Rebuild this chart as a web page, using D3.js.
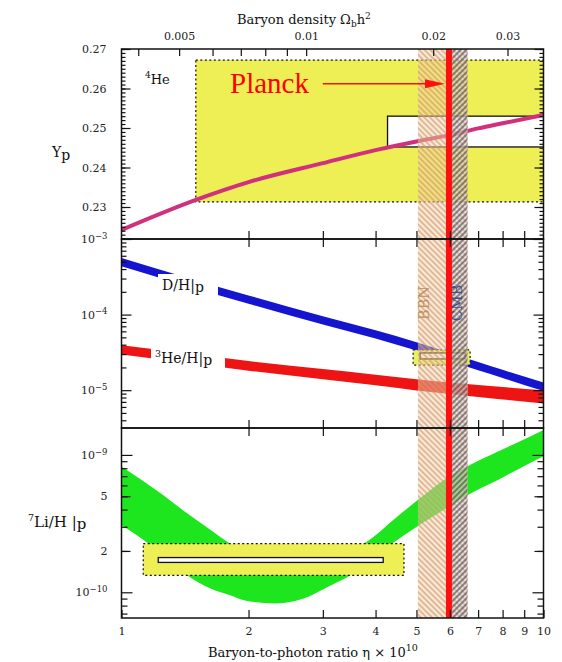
<!DOCTYPE html>
<html>
<head>
<meta charset="utf-8">
<script src="https://cdn.jsdelivr.net/npm/d3@7"></script>
<style>
  body { margin: 0; background: #fff; }
  .tick text { fill: #222; }
</style>
</head>
<body>
<div id="chart"></div>
<script>
// ---- data ----
const etaGrid = [1, 1.5, 2, 3, 4, 5, 6, 7, 8, 10];
const heYp = [0.2242, 0.2318, 0.2363, 0.2411, 0.2444, 0.2466, 0.2482, 0.2499, 0.2512, 0.2533];
const dhUpper = [5.60e-4, 2.84e-4, 1.79e-4, 9.53e-5, 6.21e-5, 4.31e-5, 3.11e-5, 2.36e-5, 1.86e-5, 1.26e-5];
const dhLower = [4.35e-4, 2.20e-4, 1.39e-4, 7.40e-5, 4.82e-5, 3.34e-5, 2.42e-5, 1.83e-5, 1.45e-5, 9.75e-6];
const he3Upper = [3.92e-5, 2.96e-5, 2.43e-5, 1.90e-5, 1.60e-5, 1.39e-5, 1.26e-5, 1.17e-5, 1.10e-5, 9.95e-6];
const he3Lower = [2.97e-5, 2.23e-5, 1.81e-5, 1.40e-5, 1.16e-5, 9.93e-6, 8.89e-6, 8.15e-6, 7.55e-6, 6.67e-6];

const liEta = [1, 1.13, 1.25, 1.43, 1.63, 1.81, 1.95, 2.3, 2.7, 3.13, 3.5, 3.75, 4.5, 5.4, 5.9, 6.5, 7.8, 9.3, 10];
const liUpper = [8.22e-10, 6.40e-10, 5.15e-10, 3.76e-10, 2.83e-10, 2.26e-10, 2.0e-10, 1.70e-10, 1.66e-10, 1.82e-10,
                 2.04e-10, 2.26e-10, 3.55e-10, 5.56e-10, 6.79e-10, 8.07e-10, 1.06e-9, 1.36e-9, 1.52e-9];
const liLower = [3.08e-10, 2.39e-10, 1.86e-10, 1.33e-10, 1.06e-10, 9.5e-11, 8.75e-11, 8.28e-11, 9.0e-11, 1.12e-10,
                 1.34e-10, 1.58e-10, 2.40e-10, 3.47e-10, 4.10e-10, 4.97e-10, 6.58e-10, 8.75e-10, 9.72e-10];

// observed ranges (boxes)
const heObsEta = [1.5, 10], heObsYp = [0.2313, 0.2672];
const heInnerEta = [4.27, 10], heInnerYp = [0.2452, 0.2530];
const dhObsEta = [4.91, 6.70], dhObsVal = [2.15e-5, 3.41e-5];
const dhInnerEta = [5.10, 6.52], dhInnerVal = [2.59e-5, 3.11e-5];
const liObsEta = [1.126, 4.67], liObsVal = [1.33e-10, 2.26e-10];
const liInnerEta = [1.222, 4.17], liInnerVal = [1.65e-10, 1.79e-10];

const bbnRange = [5.04, 6.62];
const cmbRange = [5.90, 6.60];
const planckEta = 5.97;

// ticks
const etaTicks = [1, 2, 3, 4, 5, 6, 7, 8, 9, 10];
const omegaTicks = [0.004, 0.005, 0.006, 0.007, 0.008, 0.009, 0.01, 0.02, 0.03];
const omegaLabels = [0.005, 0.01, 0.02, 0.03];
const ypMajor = [0.23, 0.24, 0.25, 0.26, 0.27];
const midMajor = [1e-3, 1e-4, 1e-5];
const liLabelled = [1e-9, 5e-10, 2e-10, 1e-10];

// ---- layout ----
const W = 562, H = 662;
const x0 = 121.5, x1 = 543.5;
const topP = [49, 239], midP = [239, 428], botP = [428, 618];

const x = d3.scaleLog().domain([1, 10]).range([x0, x1]);
const xOm = d3.scaleLog().domain([1 / 273.9, 10 / 273.9]).range([x0, x1]);
const yHe = d3.scaleLinear().domain([0.2219, 0.27]).range([topP[1], topP[0]]);
const yMid = d3.scaleLog().domain([3.16e-6, 1e-3]).range([midP[1], midP[0]]);
const yLi = d3.scaleLog().domain([6.5e-11, 1.57e-9]).range([botP[1], botP[0]]);

const svg = d3.select("#chart").append("svg")
  .attr("width", W).attr("height", H)
  .style("font-family", "'DejaVu Serif', serif");

const defs = svg.append("defs");
[["clipTop", topP], ["clipMid", midP], ["clipBot", botP]].forEach(([id, p]) => {
  defs.append("clipPath").attr("id", id).append("rect")
    .attr("x", x0).attr("y", p[0]).attr("width", x1 - x0).attr("height", p[1] - p[0]);
});

function hatch(id, angle, bg, line, lw) {
  const p = defs.append("pattern").attr("id", id)
    .attr("patternUnits", "userSpaceOnUse").attr("width", 4).attr("height", 4)
    .attr("patternTransform", `rotate(${angle})`);
  p.append("rect").attr("width", 4).attr("height", 4).attr("fill", bg);
  p.append("line").attr("x1", 1).attr("y1", 0).attr("x2", 1).attr("y2", 4)
    .attr("stroke", line).attr("stroke-width", lw);
}
hatch("hBBN", -45, "rgba(240,210,175,0.45)", "rgba(210,150,100,0.85)", 1.4);
hatch("hCMB", 45, "rgba(210,210,222,0.35)", "rgba(45,45,65,0.85)", 1.2);

const gTop = svg.append("g").attr("clip-path", "url(#clipTop)");
const gMid = svg.append("g").attr("clip-path", "url(#clipMid)");
const gBot = svg.append("g").attr("clip-path", "url(#clipBot)");

function box(g, ex, ey, ys, fill, dashed) {
  g.append("rect")
    .attr("x", x(ex[0])).attr("width", x(ex[1]) - x(ex[0]))
    .attr("y", ys(ey[1])).attr("height", ys(ey[0]) - ys(ey[1]))
    .attr("fill", fill).attr("stroke", "#111")
    .attr("stroke-width", dashed ? 1.2 : 1.3)
    .attr("stroke-dasharray", dashed ? "2,2.5" : null);
}

const yellow = "#eeee55";

// ---- top panel: 4He ----
box(gTop, heObsEta, heObsYp, yHe, yellow, true);
box(gTop, heInnerEta, heInnerYp, yHe, "#fff", false);
gTop.append("path")
  .datum(etaGrid.map((e, i) => [e, heYp[i]]))
  .attr("fill", "none").attr("stroke", "#d0307c").attr("stroke-width", 4)
  .attr("d", d3.line().x(d => x(d[0])).y(d => yHe(d[1])).curve(d3.curveMonotoneX));

// ---- middle panel: D and 3He ----
const band = ys => d3.area().x(d => x(d[0])).y0(d => ys(d[1])).y1(d => ys(d[2])).curve(d3.curveMonotoneX);
gMid.append("path").datum(etaGrid.map((e, i) => [e, dhLower[i], dhUpper[i]]))
  .attr("fill", "#1515d0").attr("d", band(yMid));
gMid.append("path").datum(etaGrid.map((e, i) => [e, he3Lower[i], he3Upper[i]]))
  .attr("fill", "#ee1414").attr("d", band(yMid));

// ---- bottom panel: 7Li ----
gBot.append("path").datum(liEta.map((e, i) => [e, liLower[i], liUpper[i]]))
  .attr("fill", "#1ee61e").attr("d", band(yLi));
box(gBot, liObsEta, liObsVal, yLi, yellow, true);
box(gBot, liInnerEta, liInnerVal, yLi, "#fff", false);

// ---- hatched BBN / CMB bands across all panels ----
svg.append("rect").attr("x", x(bbnRange[0])).attr("width", x(bbnRange[1]) - x(bbnRange[0]))
  .attr("y", topP[0]).attr("height", botP[1] - topP[0]).attr("fill", "url(#hBBN)");
svg.append("rect").attr("x", x(cmbRange[0])).attr("width", x(cmbRange[1]) - x(cmbRange[0]))
  .attr("y", topP[0]).attr("height", botP[1] - topP[0]).attr("fill", "url(#hCMB)");

box(gMid, dhObsEta, dhObsVal, yMid, "#e8f060", true);
box(gMid, dhInnerEta, dhInnerVal, yMid, "#fbfbe8", false);

svg.append("text")
  .attr("transform", `translate(${(x(bbnRange[0]) + x(cmbRange[0])) / 2 - 3},303) rotate(-90)`)
  .attr("text-anchor", "middle").attr("font-size", 14.5).attr("fill", "#c09060").text("BBN");
svg.append("text")
  .attr("transform", `translate(${(x(cmbRange[0]) + x(cmbRange[1])) / 2 + 5},303) rotate(-90)`)
  .attr("text-anchor", "middle").attr("font-size", 14.5).attr("fill", "#40508a").text("CMB");

// Planck line
svg.append("line").attr("x1", x(planckEta)).attr("x2", x(planckEta))
  .attr("y1", topP[0]).attr("y2", botP[1])
  .attr("stroke", "#ff1010").attr("stroke-width", 6);

// ---- frames and axes ----
[topP, midP, botP].forEach(p => {
  svg.append("rect").attr("x", x0).attr("y", p[0]).attr("width", x1 - x0).attr("height", p[1] - p[0])
    .attr("fill", "none").attr("stroke", "#111").attr("stroke-width", 1.5);
});

function clean(g) {
  g.select(".domain").remove();
  g.selectAll(".tick line").attr("stroke", "#111").attr("stroke-width", 1.2);
  g.selectAll(".tick text").attr("font-size", 11).attr("font-family", "'DejaVu Serif', serif");
}

// eta ticks on panel edges
svg.append("g").attr("transform", `translate(0,${botP[1]})`)
  .call(d3.axisBottom(x).tickValues(etaTicks).tickFormat(d3.format("d")).tickSize(-8).tickPadding(9)).call(clean);
[midP[0], botP[0]].forEach(yy => {
  svg.append("g").attr("transform", `translate(0,${yy})`)
    .call(d3.axisBottom(x).tickValues(etaTicks.slice(1, 9)).tickFormat("").tickSize(-8)).call(clean);
  svg.append("g").attr("transform", `translate(0,${yy})`)
    .call(d3.axisTop(x).tickValues(etaTicks.slice(1, 9)).tickFormat("").tickSize(-8)).call(clean);
});

// Omega axis on top
svg.append("g").attr("transform", `translate(0,${topP[0]})`)
  .call(d3.axisTop(xOm).tickValues(omegaTicks).tickSize(-7).tickPadding(9)
    .tickFormat(d => omegaLabels.includes(d) ? String(d) : "")).call(clean);

// y ticks both sides
function yTicks(scale, minor, major, minLen, majLen) {
  [[d3.axisLeft, x0], [d3.axisRight, x1]].forEach(([ax, xx]) => {
    svg.append("g").attr("transform", `translate(${xx},0)`)
      .call(ax(scale).tickValues(minor).tickFormat("").tickSize(-minLen)).call(clean);
    svg.append("g").attr("transform", `translate(${xx},0)`)
      .call(ax(scale).tickValues(major).tickFormat("").tickSize(-majLen)).call(clean);
  });
}
const ypMinor = d3.range(222, 271).map(d => d / 1000);
yTicks(yHe, ypMinor, ypMajor, 4, 9);
const decadeMinor = (lo, hi) => d3.range(lo, hi).flatMap(e => [2, 3, 4, 5, 6, 7, 8, 9].map(m => m * Math.pow(10, e)));
yTicks(yMid, decadeMinor(-6, -3).filter(v => v > 3.16e-6 && v < 1e-3), midMajor, 5, 10);
yTicks(yLi, decadeMinor(-11, -9).filter(v => v > 6.5e-11 && v < 1.57e-9), [1e-9, 1e-10], 6, 11);
yTicks(yLi, [], [5e-10, 2e-10], 0, 9);

function sup(sel, base, exp) {
  sel.text(null);
  sel.append("tspan").text(base);
  sel.append("tspan").attr("dy", "-0.5em").attr("font-size", 8.5).text(exp);
}

svg.append("g").attr("transform", `translate(${x0},0)`)
  .call(d3.axisLeft(yHe).tickValues(ypMajor).tickSize(0).tickPadding(15).tickFormat(d3.format(".2f"))).call(clean);
svg.append("g").attr("transform", `translate(${x0},0)`)
  .call(d3.axisLeft(yMid).tickValues(midMajor).tickSize(0).tickPadding(14)).call(clean)
  .selectAll(".tick text").each(function (d) { sup(d3.select(this), "10", "−" + Math.round(-Math.log10(d))); });
svg.append("g").attr("transform", `translate(${x0},0)`)
  .call(d3.axisLeft(yLi).tickValues(liLabelled).tickSize(0).tickPadding(14)).call(clean)
  .selectAll(".tick text").each(function (d) {
    const e = Math.log10(d);
    if (Math.abs(e - Math.round(e)) < 1e-6) sup(d3.select(this), "10", "−" + Math.round(-e));
    else d3.select(this).text(Math.round(d / 1e-10));
  });

// ---- text labels ----
const serif = "'DejaVu Serif', serif";
function richText(xx, yy, parts, size, color) {
  const t = svg.append("text").attr("x", xx).attr("y", yy)
    .attr("font-size", size).attr("font-family", serif).attr("fill", color || "#111");
  parts.forEach(p => {
    const ts = t.append("tspan").text(p[0]);
    if (p[1]) ts.attr("dy", p[1]);
    if (p[2]) ts.attr("font-size", p[2]);
  });
  return t;
}

// titles
richText(237, 24, [["Baryon density Ω"], ["b", 3, 9], ["h", -3], ["2", -5, 9]], 13);
richText(208, 657, [["Baryon-to-photon ratio η × 10"], ["10", -6, 9.5]], 13);

// y labels
richText(52, 157, [["Y"], ["p", 3]], 14);
richText(28, 527, [["7", -6, 9.5], ["Li/H", 6], [" |"], ["p", 2]], 15);

// 4He label
richText(145, 84, [["4", -6, 9], ["He", 6]], 13);

// curve labels with white gaps
function gapLabel(xx, yy, w, parts) {
  svg.append("rect").attr("x", xx - 4).attr("y", yy - 16).attr("width", w).attr("height", 22).attr("fill", "#fff");
  richText(xx, yy, parts, 14);
}
gapLabel(162, 290, 60, [["D/H"], ["|", 0], ["p", 2]]);
gapLabel(155, 363, 74, [["3", -6, 9.5], ["He/H", 6], ["|"], ["p", 2]]);

// Planck annotation
svg.append("text").attr("x", 230).attr("y", 93)
  .attr("font-family", "'Liberation Serif', 'Times New Roman', serif")
  .attr("font-size", 29).attr("fill", "#ff0000").text("Planck");
const arrowY = yHe(0.2612), tipX = x(planckEta) - 4;
svg.append("line").attr("x1", x(3.0)).attr("x2", tipX - 16).attr("y1", arrowY).attr("y2", arrowY)
  .attr("stroke", "#ff1010").attr("stroke-width", 1.5);
svg.append("path")
  .attr("d", `M${tipX},${arrowY} L${tipX - 20},${arrowY - 4.5} L${tipX - 20},${arrowY + 4.5} Z`)
  .attr("fill", "#ff1010");
</script>
</body>
</html>
